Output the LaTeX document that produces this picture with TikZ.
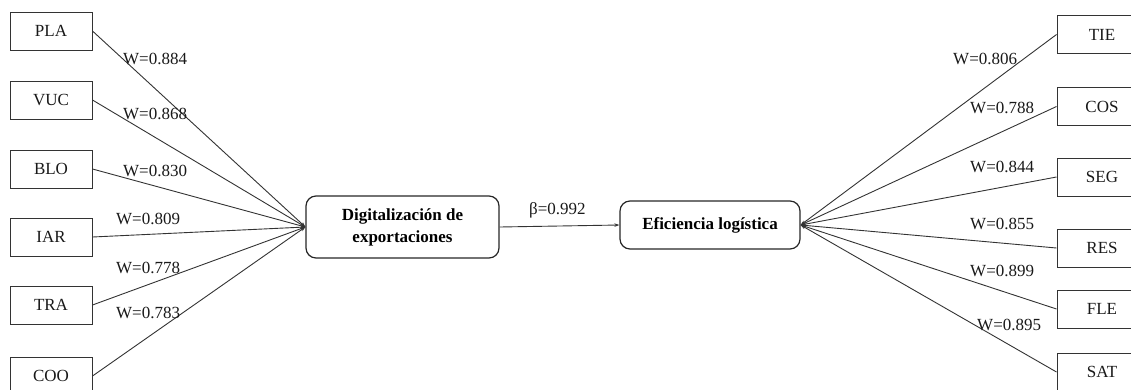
\documentclass[tikz,border=0pt]{standalone}
\usepackage{fontspec}
\setmainfont{Liberation Serif}
\usetikzlibrary{arrows.meta}
\begin{document}
\begin{tikzpicture}[x=1pt,y=-1pt,
  ind/.style={draw=black!80,line width=1pt,minimum width=82pt,minimum height=38pt,inner sep=0pt,text=black!90,font=\fontsize{17}{20}\selectfont},
  indr/.style={ind,minimum width=90pt},
  con/.style={draw=black!85,line width=1.2pt,rounded corners=10pt,inner sep=0pt,align=center,text=black,font=\fontsize{17}{22}\selectfont\bfseries},
  arr/.style={draw=black!80,line width=0.9pt,-{Stealth[length=5pt,width=3.5pt]}},
  wl/.style={anchor=west,inner sep=0pt,text=black!90,font=\fontsize{17}{20}\selectfont}]
\useasboundingbox (0,0) rectangle (1131,389);
\begin{scope}
\clip (0,0) rectangle (1131,389);
% left indicators
\node[ind] (PLA) at (51,31) {PLA};
\node[ind] (VUC) at (51,100) {VUC};
\node[ind] (BLO) at (51,169) {BLO};
\node[ind] (IAR) at (51,237) {IAR};
\node[ind] (TRA) at (51,305) {TRA};
\node[ind] (COO) at (51,376) {COO};
% right indicators
\node[indr] (TIE) at (1102,34.5) {TIE};
\node[indr] (COS) at (1102,106.5) {COS};
\node[indr] (SEG) at (1102,177) {SEG};
\node[indr] (RES) at (1102,248) {RES};
\node[indr] (FLE) at (1102,309) {FLE};
\node[indr] (SAT) at (1102,372) {SAT};
% constructs
\node[con,minimum width=193pt,minimum height=62pt] (D) at (402.5,227) {Digitalización de\\exportaciones};
\node[con,minimum width=180pt,minimum height=48pt] (E) at (710,225) {Eficiencia logística};
% connectors
\foreach \n in {PLA,VUC,BLO,IAR,TRA,COO} {\draw[arr] (\n.east) -- (D.west);}
\foreach \n in {TIE,COS,SEG,RES,FLE,SAT} {\draw[arr] (\n.west) -- (E.east);}
\draw[arr] (D.east) -- (E.west);
% labels
\node[wl] (l1) at (123,59) {W=0.884};
\node[wl] (l2) at (123,114) {W=0.868};
\node[wl] (l3) at (123,171) {W=0.830};
\node[wl] (l4) at (116,219) {W=0.809};
\node[wl] (l5) at (116,268) {W=0.778};
\node[wl] (l6) at (116,313) {W=0.783};
\node[wl] (r1) at (953,59) {W=0.806};
\node[wl] (r2) at (970,108) {W=0.788};
\node[wl] (r3) at (970,167) {W=0.844};
\node[wl] (r4) at (970,224) {W=0.855};
\node[wl] (r5) at (970,271) {W=0.899};
\node[wl] (r6) at (977,325) {W=0.895};
\node[wl] (b) at (529,210) {β=0.992};
\end{scope}
\end{tikzpicture}
\end{document}
